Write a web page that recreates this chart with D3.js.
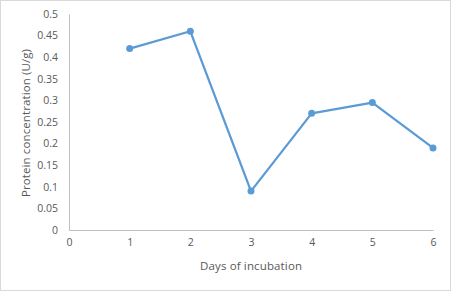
<!DOCTYPE html>
<html>
<head>
<meta charset="utf-8">
<script src="https://d3js.org/d3.v7.min.js"></script>
<style>
  body { margin: 0; background: #fff; }
  .axis .domain { stroke: #bfbfbf; }
  .axis text { fill: #595959; font-family: "Open Sans", sans-serif; font-size: 10.5px; }
</style>
</head>
<body>
<div id="chart"></div>
<script>
const days = [1, 2, 3, 4, 5, 6];
const protein = [0.42, 0.46, 0.09, 0.27, 0.295, 0.19];
const xTicks = [0, 1, 2, 3, 4, 5, 6];
const yTicks = [0, 0.05, 0.1, 0.15, 0.2, 0.25, 0.3, 0.35, 0.4, 0.45, 0.5];

const width = 451, height = 291;
const margins = {top: 14, right: 18, bottom: 61, left: 69};

const svg = d3.select("#chart").append("svg")
    .attr("width", width)
    .attr("height", height);

svg.append("rect")
   .attr("x", 0.5).attr("y", 0.5)
   .attr("width", width - 1).attr("height", height - 1)
   .attr("fill", "#fff")
   .attr("stroke", "#d9d9d9");

let xScale = d3.scaleLinear().domain([0, 6]).range([margins.left, width - margins.right]);
let yScale = d3.scaleLinear().domain([0, 0.5]).range([height - margins.bottom, margins.top]);

let leftAxis = d3.axisLeft(yScale).tickValues(yTicks).tickSize(0).tickPadding(11)
                 .tickFormat(d => String(+d.toFixed(2)));
svg.append("g")
   .attr("class", "axis")
   .attr("transform", `translate(${margins.left}, 0)`)
   .call(leftAxis);

let bottomAxis = d3.axisBottom(xScale).tickValues(xTicks).tickSize(0).tickPadding(9)
                   .tickFormat(d => d);
svg.append("g")
   .attr("class", "axis")
   .attr("transform", `translate(0, ${height - margins.bottom})`)
   .call(bottomAxis);

svg.selectAll(".axis .domain").attr("stroke", "#bfbfbf");

const data = days.map((d, i) => ({day: d, value: protein[i]}));

let lineGen = d3.line().x(d => xScale(d.day)).y(d => yScale(d.value));
svg.append("path")
   .datum(data)
   .attr("fill", "none")
   .attr("stroke", "#5b9bd5")
   .attr("stroke-width", 2.25)
   .attr("stroke-linejoin", "round")
   .attr("d", lineGen);

svg.selectAll("circle.pt").data(data)
   .join("circle")
   .attr("class", "pt")
   .attr("cx", d => xScale(d.day))
   .attr("cy", d => yScale(d.value))
   .attr("r", 3.5)
   .attr("fill", "#5b9bd5");

svg.append("text")
   .attr("x", (margins.left + width - margins.right) / 2)
   .attr("y", 270)
   .attr("text-anchor", "middle")
   .attr("textLength", 102)
   .style("fill", "#595959")
   .style("font-family", "Open Sans, sans-serif")
   .style("font-size", "11.5px")
   .text("Days of incubation");

svg.append("text")
   .attr("transform", `translate(30, 123) rotate(-90)`)
   .attr("text-anchor", "middle")
   .attr("textLength", 148)
   .style("fill", "#595959")
   .style("font-family", "Open Sans, sans-serif")
   .style("font-size", "11.5px")
   .text("Protein concentration (U/g)");
</script>
</body>
</html>
